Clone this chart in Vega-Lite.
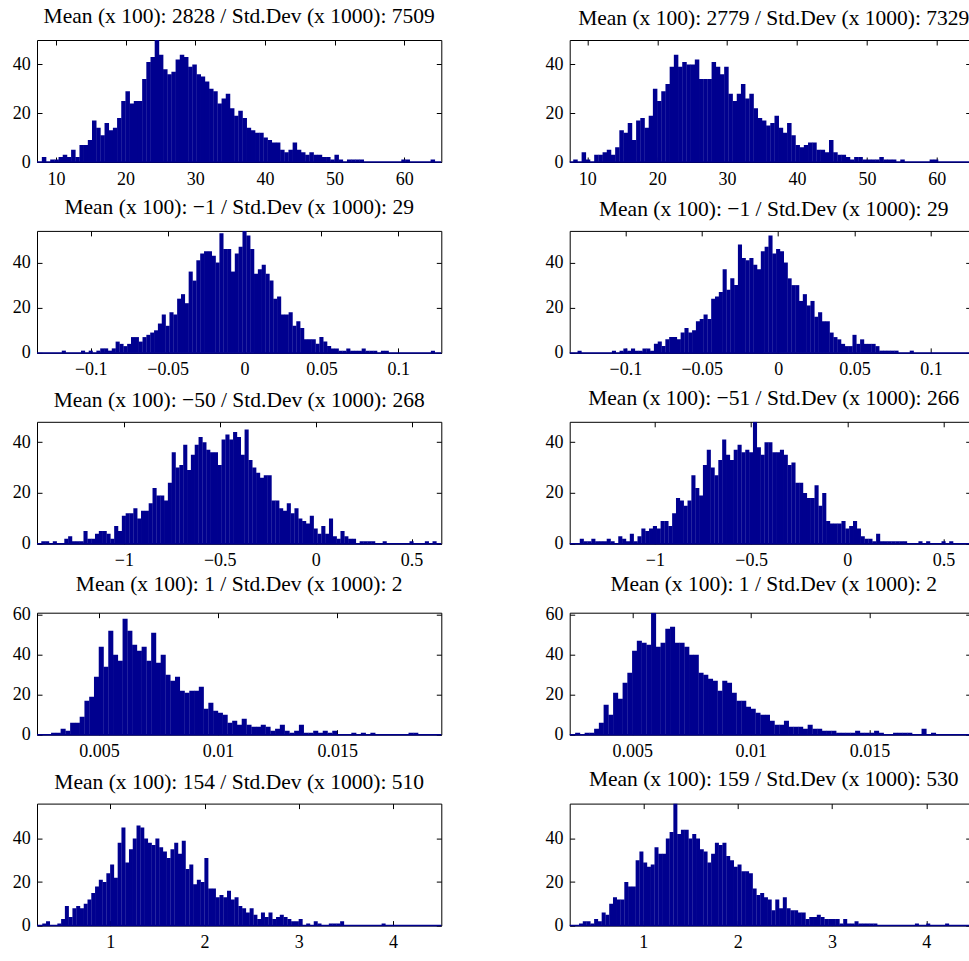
{
"$schema":"https://vega.github.io/schema/vega-lite/v6.json",
"background":"white",
"padding":{"left":11,"top":5,"right":0,"bottom":0},
"config":{
 "view":{"stroke":"#000","strokeWidth":1},
 "axis":{"domain":false,"grid":false,"tickColor":"#000","tickWidth":1,"tickSize":-5,"labelFont":"Liberation Serif","labelFontSize":18,"labelColor":"#000","labelPadding":13,"labelFlush":false,"labelOverlap":false},
 "axisY":{"labelPadding":11.7},
 "title":{"font":"Liberation Serif","fontSize":21.5,"fontWeight":"normal","color":"#000","anchor":"middle","frame":"group","baseline":"alphabetic","offset":10}
},
"datasets":{
"r1l":[{"x":8.3,"c":2},{"x":9.5,"c":1},{"x":10.1,"c":1},{"x":10.7,"c":2},{"x":11.3,"c":3},{"x":11.9,"c":2},{"x":12.5,"c":5},{"x":13.1,"c":2},{"x":13.7,"c":7},{"x":14.3,"c":7},{"x":14.9,"c":9},{"x":15.5,"c":17},{"x":16.1,"c":14},{"x":16.7,"c":11},{"x":17.3,"c":16},{"x":17.9,"c":13},{"x":18.5,"c":14},{"x":19.1,"c":18},{"x":19.7,"c":25},{"x":20.3,"c":29},{"x":20.9,"c":24},{"x":21.5,"c":25},{"x":22.1,"c":25},{"x":22.7,"c":34},{"x":23.3,"c":41},{"x":23.9,"c":43},{"x":24.5,"c":50},{"x":25.1,"c":44},{"x":25.7,"c":38},{"x":26.3,"c":36},{"x":26.9,"c":37},{"x":27.5,"c":42},{"x":28.1,"c":44},{"x":28.7,"c":43},{"x":29.3,"c":39},{"x":29.9,"c":40},{"x":30.5,"c":36},{"x":31.1,"c":35},{"x":31.7,"c":33},{"x":32.3,"c":30},{"x":32.9,"c":29},{"x":33.5,"c":24},{"x":34.1,"c":26},{"x":34.7,"c":28},{"x":35.3,"c":22},{"x":35.9,"c":19},{"x":36.5,"c":21},{"x":37.1,"c":18},{"x":37.7,"c":14},{"x":38.3,"c":13},{"x":38.9,"c":12},{"x":39.5,"c":12},{"x":40.1,"c":10},{"x":40.7,"c":9},{"x":41.3,"c":8},{"x":41.9,"c":8},{"x":42.5,"c":5},{"x":43.1,"c":4},{"x":43.7,"c":5},{"x":44.3,"c":8},{"x":44.9,"c":5},{"x":45.5,"c":4},{"x":46.1,"c":3},{"x":46.7,"c":4},{"x":47.3,"c":3},{"x":47.9,"c":3},{"x":48.5,"c":2},{"x":49.1,"c":2},{"x":49.7,"c":1},{"x":50.3,"c":3},{"x":50.9,"c":1},{"x":52.1,"c":1},{"x":52.7,"c":1},{"x":53.3,"c":1},{"x":53.9,"c":1},{"x":59.9,"c":1},{"x":60.5,"c":1},{"x":64.1,"c":1}],
"r1r":[{"x":8.3,"c":1},{"x":9.5,"c":4},{"x":10.1,"c":1},{"x":11.3,"c":3},{"x":11.9,"c":3},{"x":12.5,"c":4},{"x":13.1,"c":5},{"x":13.7,"c":3},{"x":14.3,"c":6},{"x":14.9,"c":13},{"x":15.5,"c":12},{"x":16.1,"c":16},{"x":16.7,"c":9},{"x":17.3,"c":17},{"x":17.9,"c":18},{"x":18.5,"c":14},{"x":19.1,"c":19},{"x":19.7,"c":30},{"x":20.3,"c":25},{"x":20.9,"c":29},{"x":21.5,"c":32},{"x":22.1,"c":39},{"x":22.7,"c":44},{"x":23.3,"c":39},{"x":23.9,"c":41},{"x":24.5,"c":40},{"x":25.1,"c":40},{"x":25.7,"c":42},{"x":26.3,"c":34},{"x":26.9,"c":34},{"x":27.5,"c":34},{"x":28.1,"c":41},{"x":28.7,"c":39},{"x":29.3,"c":36},{"x":29.9,"c":39},{"x":30.5,"c":28},{"x":31.1,"c":25},{"x":31.7,"c":28},{"x":32.3,"c":32},{"x":32.9,"c":26},{"x":33.5,"c":28},{"x":34.1,"c":22},{"x":34.7,"c":18},{"x":35.3,"c":17},{"x":35.9,"c":15},{"x":36.5,"c":16},{"x":37.1,"c":19},{"x":37.7,"c":14},{"x":38.3,"c":12},{"x":38.9,"c":16},{"x":39.5,"c":11},{"x":40.1,"c":7},{"x":40.7,"c":6},{"x":41.3,"c":7},{"x":41.9,"c":8},{"x":42.5,"c":8},{"x":43.1,"c":5},{"x":43.7,"c":5},{"x":44.3,"c":4},{"x":44.9,"c":9},{"x":45.5,"c":4},{"x":46.1,"c":3},{"x":46.7,"c":3},{"x":47.3,"c":2},{"x":47.9,"c":1},{"x":48.5,"c":2},{"x":49.1,"c":2},{"x":49.7,"c":1},{"x":50.3,"c":1},{"x":50.9,"c":1},{"x":51.5,"c":1},{"x":52.1,"c":2},{"x":52.7,"c":1},{"x":53.3,"c":1},{"x":53.9,"c":1},{"x":55.1,"c":1},{"x":59.3,"c":1},{"x":59.9,"c":1}],
"r2l":[{"x":-0.1175,"c":1},{"x":-0.105,"c":1},{"x":-0.1,"c":1},{"x":-0.095,"c":1},{"x":-0.0925,"c":2},{"x":-0.09,"c":2},{"x":-0.0875,"c":1},{"x":-0.085,"c":2},{"x":-0.0825,"c":5},{"x":-0.08,"c":4},{"x":-0.0775,"c":3},{"x":-0.075,"c":4},{"x":-0.0725,"c":7},{"x":-0.07,"c":7},{"x":-0.0675,"c":5},{"x":-0.065,"c":7},{"x":-0.0625,"c":8},{"x":-0.06,"c":9},{"x":-0.0575,"c":10},{"x":-0.055,"c":13},{"x":-0.0525,"c":17},{"x":-0.05,"c":12},{"x":-0.0475,"c":18},{"x":-0.045,"c":17},{"x":-0.0425,"c":24},{"x":-0.04,"c":26},{"x":-0.0375,"c":22},{"x":-0.035,"c":36},{"x":-0.0325,"c":32},{"x":-0.03,"c":41},{"x":-0.0275,"c":44},{"x":-0.025,"c":45},{"x":-0.0225,"c":45},{"x":-0.02,"c":43},{"x":-0.0175,"c":40},{"x":-0.015,"c":53},{"x":-0.0125,"c":46},{"x":-0.01,"c":46},{"x":-0.0075,"c":36},{"x":-0.005,"c":44},{"x":-0.0025,"c":47},{"x":0,"c":54},{"x":0.0025,"c":52},{"x":0.005,"c":46},{"x":0.0075,"c":35},{"x":0.01,"c":37},{"x":0.0125,"c":39},{"x":0.015,"c":35},{"x":0.0175,"c":32},{"x":0.02,"c":24},{"x":0.0225,"c":25},{"x":0.025,"c":17},{"x":0.0275,"c":17},{"x":0.03,"c":18},{"x":0.0325,"c":12},{"x":0.035,"c":14},{"x":0.0375,"c":11},{"x":0.04,"c":6},{"x":0.0425,"c":6},{"x":0.045,"c":6},{"x":0.0475,"c":4},{"x":0.05,"c":7},{"x":0.0525,"c":5},{"x":0.055,"c":3},{"x":0.0575,"c":2},{"x":0.06,"c":2},{"x":0.0625,"c":1},{"x":0.065,"c":1},{"x":0.0675,"c":2},{"x":0.07,"c":1},{"x":0.0725,"c":1},{"x":0.075,"c":1},{"x":0.0775,"c":2},{"x":0.08,"c":1},{"x":0.0825,"c":1},{"x":0.085,"c":1},{"x":0.09,"c":1},{"x":0.0925,"c":1},{"x":0.1225,"c":1}],
"r2r":[{"x":-0.13,"c":1},{"x":-0.1075,"c":1},{"x":-0.1025,"c":1},{"x":-0.1,"c":2},{"x":-0.0975,"c":1},{"x":-0.095,"c":2},{"x":-0.0925,"c":1},{"x":-0.09,"c":1},{"x":-0.0875,"c":2},{"x":-0.085,"c":2},{"x":-0.0825,"c":1},{"x":-0.08,"c":4},{"x":-0.0775,"c":5},{"x":-0.075,"c":3},{"x":-0.0725,"c":6},{"x":-0.07,"c":7},{"x":-0.0675,"c":7},{"x":-0.065,"c":6},{"x":-0.0625,"c":9},{"x":-0.06,"c":11},{"x":-0.0575,"c":9},{"x":-0.055,"c":10},{"x":-0.0525,"c":14},{"x":-0.05,"c":15},{"x":-0.0475,"c":17},{"x":-0.045,"c":15},{"x":-0.0425,"c":24},{"x":-0.04,"c":25},{"x":-0.0375,"c":27},{"x":-0.035,"c":37},{"x":-0.0325,"c":28},{"x":-0.03,"c":33},{"x":-0.0275,"c":30},{"x":-0.025,"c":48},{"x":-0.0225,"c":42},{"x":-0.02,"c":41},{"x":-0.0175,"c":42},{"x":-0.015,"c":39},{"x":-0.0125,"c":37},{"x":-0.01,"c":45},{"x":-0.0075,"c":47},{"x":-0.005,"c":52},{"x":-0.0025,"c":44},{"x":0,"c":46},{"x":0.0025,"c":45},{"x":0.005,"c":40},{"x":0.0075,"c":33},{"x":0.01,"c":30},{"x":0.0125,"c":30},{"x":0.015,"c":23},{"x":0.0175,"c":26},{"x":0.02,"c":21},{"x":0.0225,"c":23},{"x":0.025,"c":16},{"x":0.0275,"c":18},{"x":0.03,"c":14},{"x":0.0325,"c":14},{"x":0.035,"c":9},{"x":0.0375,"c":7},{"x":0.04,"c":6},{"x":0.0425,"c":4},{"x":0.045,"c":3},{"x":0.0475,"c":3},{"x":0.05,"c":8},{"x":0.0525,"c":4},{"x":0.055,"c":6},{"x":0.0575,"c":4},{"x":0.06,"c":4},{"x":0.0625,"c":4},{"x":0.065,"c":3},{"x":0.0675,"c":1},{"x":0.07,"c":1},{"x":0.0725,"c":1},{"x":0.075,"c":1},{"x":0.0775,"c":1},{"x":0.0875,"c":1}],
"r3l":[{"x":-1.42,"c":1},{"x":-1.4,"c":1},{"x":-1.36,"c":1},{"x":-1.3,"c":2},{"x":-1.28,"c":3},{"x":-1.26,"c":1},{"x":-1.24,"c":1},{"x":-1.22,"c":1},{"x":-1.2,"c":5},{"x":-1.18,"c":2},{"x":-1.16,"c":2},{"x":-1.14,"c":4},{"x":-1.12,"c":5},{"x":-1.1,"c":5},{"x":-1.08,"c":4},{"x":-1.06,"c":2},{"x":-1.04,"c":7},{"x":-1.02,"c":5},{"x":-1,"c":11},{"x":-0.98,"c":12},{"x":-0.96,"c":12},{"x":-0.94,"c":14},{"x":-0.92,"c":10},{"x":-0.9,"c":13},{"x":-0.88,"c":13},{"x":-0.86,"c":16},{"x":-0.84,"c":22},{"x":-0.82,"c":19},{"x":-0.8,"c":19},{"x":-0.78,"c":17},{"x":-0.76,"c":24},{"x":-0.74,"c":36},{"x":-0.72,"c":30},{"x":-0.7,"c":31},{"x":-0.68,"c":39},{"x":-0.66,"c":29},{"x":-0.64,"c":35},{"x":-0.62,"c":39},{"x":-0.6,"c":42},{"x":-0.58,"c":40},{"x":-0.56,"c":37},{"x":-0.54,"c":36},{"x":-0.52,"c":36},{"x":-0.5,"c":31},{"x":-0.48,"c":41},{"x":-0.46,"c":43},{"x":-0.44,"c":41},{"x":-0.42,"c":44},{"x":-0.4,"c":42},{"x":-0.38,"c":35},{"x":-0.36,"c":45},{"x":-0.34,"c":33},{"x":-0.32,"c":30},{"x":-0.3,"c":28},{"x":-0.28,"c":26},{"x":-0.26,"c":27},{"x":-0.24,"c":27},{"x":-0.22,"c":17},{"x":-0.2,"c":17},{"x":-0.18,"c":14},{"x":-0.16,"c":13},{"x":-0.14,"c":16},{"x":-0.12,"c":12},{"x":-0.1,"c":14},{"x":-0.08,"c":10},{"x":-0.06,"c":9},{"x":-0.04,"c":8},{"x":-0.02,"c":11},{"x":0,"c":6},{"x":0.02,"c":4},{"x":0.04,"c":7},{"x":0.06,"c":4},{"x":0.08,"c":10},{"x":0.1,"c":3},{"x":0.12,"c":2},{"x":0.14,"c":5},{"x":0.16,"c":3},{"x":0.18,"c":2},{"x":0.2,"c":2},{"x":0.24,"c":1},{"x":0.26,"c":1},{"x":0.28,"c":1},{"x":0.3,"c":1},{"x":0.36,"c":1},{"x":0.5,"c":1},{"x":0.58,"c":1},{"x":0.62,"c":1}],
"r3r":[{"x":-1.38,"c":2},{"x":-1.36,"c":1},{"x":-1.34,"c":1},{"x":-1.32,"c":2},{"x":-1.3,"c":1},{"x":-1.28,"c":1},{"x":-1.26,"c":1},{"x":-1.24,"c":2},{"x":-1.22,"c":1},{"x":-1.18,"c":3},{"x":-1.16,"c":2},{"x":-1.14,"c":1},{"x":-1.12,"c":4},{"x":-1.1,"c":1},{"x":-1.08,"c":3},{"x":-1.06,"c":6},{"x":-1.04,"c":5},{"x":-1.02,"c":6},{"x":-1,"c":7},{"x":-0.98,"c":6},{"x":-0.96,"c":9},{"x":-0.94,"c":9},{"x":-0.92,"c":7},{"x":-0.9,"c":12},{"x":-0.88,"c":18},{"x":-0.86,"c":17},{"x":-0.84,"c":15},{"x":-0.82,"c":17},{"x":-0.8,"c":27},{"x":-0.78,"c":22},{"x":-0.76,"c":19},{"x":-0.74,"c":31},{"x":-0.72,"c":37},{"x":-0.7,"c":30},{"x":-0.68,"c":27},{"x":-0.66,"c":33},{"x":-0.64,"c":41},{"x":-0.62,"c":35},{"x":-0.6,"c":33},{"x":-0.58,"c":37},{"x":-0.56,"c":39},{"x":-0.54,"c":36},{"x":-0.52,"c":37},{"x":-0.5,"c":36},{"x":-0.48,"c":48},{"x":-0.46,"c":38},{"x":-0.44,"c":35},{"x":-0.42,"c":40},{"x":-0.4,"c":40},{"x":-0.38,"c":36},{"x":-0.36,"c":36},{"x":-0.34,"c":37},{"x":-0.32,"c":35},{"x":-0.3,"c":31},{"x":-0.28,"c":32},{"x":-0.26,"c":24},{"x":-0.24,"c":24},{"x":-0.22,"c":20},{"x":-0.2,"c":18},{"x":-0.18,"c":18},{"x":-0.16,"c":23},{"x":-0.14,"c":15},{"x":-0.12,"c":20},{"x":-0.1,"c":9},{"x":-0.08,"c":8},{"x":-0.06,"c":8},{"x":-0.04,"c":8},{"x":-0.02,"c":9},{"x":0,"c":6},{"x":0.02,"c":7},{"x":0.04,"c":9},{"x":0.06,"c":6},{"x":0.08,"c":3},{"x":0.1,"c":2},{"x":0.12,"c":2},{"x":0.14,"c":1},{"x":0.16,"c":4},{"x":0.18,"c":1},{"x":0.2,"c":1},{"x":0.22,"c":1},{"x":0.24,"c":1},{"x":0.26,"c":1},{"x":0.28,"c":1},{"x":0.3,"c":1},{"x":0.38,"c":1},{"x":0.42,"c":1},{"x":0.5,"c":1},{"x":0.54,"c":1}],
"r4l":[{"x":0.0031,"c":1},{"x":0.0033,"c":1},{"x":0.0035,"c":3},{"x":0.0037,"c":2},{"x":0.0039,"c":6},{"x":0.0041,"c":6},{"x":0.0043,"c":9},{"x":0.0045,"c":17},{"x":0.0047,"c":19},{"x":0.0049,"c":29},{"x":0.0051,"c":44},{"x":0.0053,"c":34},{"x":0.0055,"c":52},{"x":0.0057,"c":40},{"x":0.0059,"c":37},{"x":0.0061,"c":58},{"x":0.0063,"c":52},{"x":0.0065,"c":45},{"x":0.0067,"c":42},{"x":0.0069,"c":44},{"x":0.0071,"c":37},{"x":0.0073,"c":51},{"x":0.0075,"c":36},{"x":0.0077,"c":40},{"x":0.0079,"c":30},{"x":0.0081,"c":27},{"x":0.0083,"c":29},{"x":0.0085,"c":22},{"x":0.0087,"c":21},{"x":0.0089,"c":22},{"x":0.0091,"c":22},{"x":0.0093,"c":24},{"x":0.0095,"c":13},{"x":0.0097,"c":16},{"x":0.0099,"c":12},{"x":0.0101,"c":11},{"x":0.0103,"c":10},{"x":0.0105,"c":6},{"x":0.0107,"c":7},{"x":0.0109,"c":5},{"x":0.0111,"c":8},{"x":0.0113,"c":5},{"x":0.0115,"c":4},{"x":0.0117,"c":4},{"x":0.0119,"c":5},{"x":0.0121,"c":4},{"x":0.0123,"c":2},{"x":0.0125,"c":3},{"x":0.0127,"c":5},{"x":0.0129,"c":2},{"x":0.0131,"c":1},{"x":0.0133,"c":2},{"x":0.0135,"c":5},{"x":0.0137,"c":1},{"x":0.0139,"c":1},{"x":0.0141,"c":2},{"x":0.0143,"c":1},{"x":0.0145,"c":2},{"x":0.0147,"c":1},{"x":0.0149,"c":2},{"x":0.0157,"c":1},{"x":0.0161,"c":1},{"x":0.0165,"c":1},{"x":0.0181,"c":1},{"x":0.0183,"c":1}],
"r4r":[{"x":0.0027,"c":1},{"x":0.0031,"c":1},{"x":0.0033,"c":1},{"x":0.0035,"c":3},{"x":0.0037,"c":6},{"x":0.0039,"c":15},{"x":0.0041,"c":10},{"x":0.0043,"c":21},{"x":0.0045,"c":18},{"x":0.0047,"c":26},{"x":0.0049,"c":31},{"x":0.0051,"c":42},{"x":0.0053,"c":47},{"x":0.0055,"c":46},{"x":0.0057,"c":45},{"x":0.0059,"c":61},{"x":0.0061,"c":44},{"x":0.0063,"c":46},{"x":0.0065,"c":53},{"x":0.0067,"c":54},{"x":0.0069,"c":46},{"x":0.0071,"c":46},{"x":0.0073,"c":44},{"x":0.0075,"c":40},{"x":0.0077,"c":40},{"x":0.0079,"c":31},{"x":0.0081,"c":30},{"x":0.0083,"c":28},{"x":0.0085,"c":27},{"x":0.0087,"c":22},{"x":0.0089,"c":27},{"x":0.0091,"c":26},{"x":0.0093,"c":21},{"x":0.0095,"c":17},{"x":0.0097,"c":17},{"x":0.0099,"c":14},{"x":0.0101,"c":13},{"x":0.0103,"c":11},{"x":0.0105,"c":10},{"x":0.0107,"c":10},{"x":0.0109,"c":7},{"x":0.0111,"c":5},{"x":0.0113,"c":5},{"x":0.0115,"c":7},{"x":0.0117,"c":4},{"x":0.0119,"c":4},{"x":0.0121,"c":4},{"x":0.0123,"c":3},{"x":0.0125,"c":5},{"x":0.0127,"c":3},{"x":0.0129,"c":3},{"x":0.0131,"c":2},{"x":0.0133,"c":2},{"x":0.0135,"c":2},{"x":0.0137,"c":1},{"x":0.0139,"c":1},{"x":0.0141,"c":1},{"x":0.0143,"c":1},{"x":0.0145,"c":2},{"x":0.0147,"c":1},{"x":0.0149,"c":1},{"x":0.0151,"c":1},{"x":0.0153,"c":2},{"x":0.0155,"c":1},{"x":0.0161,"c":1},{"x":0.0163,"c":1},{"x":0.0165,"c":1},{"x":0.0167,"c":1},{"x":0.0173,"c":3},{"x":0.0177,"c":1}],
"r5l":[{"x":0.3,"c":1},{"x":0.34,"c":2},{"x":0.46,"c":1},{"x":0.5,"c":3},{"x":0.54,"c":9},{"x":0.58,"c":4},{"x":0.62,"c":8},{"x":0.66,"c":9},{"x":0.7,"c":8},{"x":0.74,"c":10},{"x":0.78,"c":12},{"x":0.82,"c":15},{"x":0.86,"c":18},{"x":0.9,"c":21},{"x":0.94,"c":20},{"x":0.98,"c":24},{"x":1.02,"c":28},{"x":1.06,"c":22},{"x":1.1,"c":38},{"x":1.14,"c":45},{"x":1.18,"c":29},{"x":1.22,"c":35},{"x":1.26,"c":40},{"x":1.3,"c":46},{"x":1.34,"c":45},{"x":1.38,"c":40},{"x":1.42,"c":38},{"x":1.46,"c":37},{"x":1.5,"c":40},{"x":1.54,"c":36},{"x":1.58,"c":34},{"x":1.62,"c":31},{"x":1.66,"c":35},{"x":1.7,"c":38},{"x":1.74,"c":33},{"x":1.78,"c":39},{"x":1.82,"c":26},{"x":1.86,"c":28},{"x":1.9,"c":19},{"x":1.94,"c":21},{"x":1.98,"c":20},{"x":2.02,"c":31},{"x":2.06,"c":17},{"x":2.1,"c":17},{"x":2.14,"c":13},{"x":2.18,"c":14},{"x":2.22,"c":13},{"x":2.26,"c":16},{"x":2.3,"c":12},{"x":2.34,"c":13},{"x":2.38,"c":9},{"x":2.42,"c":8},{"x":2.46,"c":6},{"x":2.5,"c":8},{"x":2.54,"c":5},{"x":2.58,"c":3},{"x":2.62,"c":6},{"x":2.66,"c":4},{"x":2.7,"c":6},{"x":2.74,"c":3},{"x":2.78,"c":4},{"x":2.82,"c":5},{"x":2.86,"c":4},{"x":2.9,"c":3},{"x":2.94,"c":2},{"x":2.98,"c":2},{"x":3.02,"c":3},{"x":3.1,"c":1},{"x":3.18,"c":2},{"x":3.22,"c":1},{"x":3.34,"c":1},{"x":3.38,"c":1},{"x":3.42,"c":1},{"x":3.46,"c":2},{"x":3.9,"c":1}],
"r5r":[{"x":0.34,"c":1},{"x":0.38,"c":2},{"x":0.42,"c":2},{"x":0.46,"c":1},{"x":0.5,"c":3},{"x":0.54,"c":2},{"x":0.58,"c":6},{"x":0.62,"c":5},{"x":0.66,"c":10},{"x":0.7,"c":13},{"x":0.74,"c":12},{"x":0.78,"c":12},{"x":0.82,"c":20},{"x":0.86,"c":18},{"x":0.9,"c":18},{"x":0.94,"c":30},{"x":0.98,"c":34},{"x":1.02,"c":29},{"x":1.06,"c":27},{"x":1.1,"c":28},{"x":1.14,"c":36},{"x":1.18,"c":33},{"x":1.22,"c":33},{"x":1.26,"c":40},{"x":1.3,"c":43},{"x":1.34,"c":56},{"x":1.38,"c":42},{"x":1.42,"c":44},{"x":1.46,"c":44},{"x":1.5,"c":40},{"x":1.54,"c":42},{"x":1.58,"c":40},{"x":1.62,"c":35},{"x":1.66,"c":34},{"x":1.7,"c":29},{"x":1.74,"c":33},{"x":1.78,"c":38},{"x":1.82,"c":37},{"x":1.86,"c":38},{"x":1.9,"c":32},{"x":1.94,"c":30},{"x":1.98,"c":27},{"x":2.02,"c":28},{"x":2.06,"c":25},{"x":2.1,"c":25},{"x":2.14,"c":24},{"x":2.18,"c":17},{"x":2.22,"c":14},{"x":2.26,"c":15},{"x":2.3,"c":13},{"x":2.34,"c":12},{"x":2.38,"c":7},{"x":2.42,"c":12},{"x":2.46,"c":8},{"x":2.5,"c":13},{"x":2.54,"c":8},{"x":2.58,"c":7},{"x":2.62,"c":7},{"x":2.66,"c":6},{"x":2.7,"c":6},{"x":2.74,"c":3},{"x":2.78,"c":4},{"x":2.82,"c":4},{"x":2.86,"c":5},{"x":2.9,"c":4},{"x":2.94,"c":3},{"x":2.98,"c":3},{"x":3.02,"c":3},{"x":3.06,"c":3},{"x":3.1,"c":1},{"x":3.14,"c":3},{"x":3.18,"c":1},{"x":3.22,"c":1},{"x":3.26,"c":2},{"x":3.3,"c":1},{"x":3.34,"c":1},{"x":3.38,"c":1},{"x":3.42,"c":1},{"x":3.46,"c":1},{"x":3.9,"c":1},{"x":4.02,"c":1},{"x":4.22,"c":1}]
},
"columns":2,
"bounds":"flush",
"spacing":{"row":68.9,"column":127.7},
"concat":[
{"width":404.3,"height":122,"title":{"text":"Mean (x 100): 2828 / Std.Dev (x 1000): 7509"},"data":{"name":"r1l"},"resolve":{"axis":{"x":"independent","y":"independent"}},"layer":[
 {"mark":{"type":"bar","orient":"vertical","width":4.5,"color":"#00008F","clip":true},"encoding":{"x":{"field":"x","type":"quantitative","title":null,"scale":{"domain":[8.0,64.6],"nice":false,"zero":false},"axis":{"orient":"bottom","values":[10,20,30,40,50,60],"format":"~r"}},"y":{"field":"c","type":"quantitative","title":null,"scale":{"domain":[0,50],"nice":false},"axis":{"orient":"left","values":[0,20,40]}}}},
 {"data":{"values":[{}]},"mark":{"type":"rule","color":"#00008F","strokeWidth":1.5},"encoding":{"y":{"datum":0,"type":"quantitative","axis":null}}},
 {"mark":{"type":"point","opacity":0},"encoding":{"x":{"field":"x","type":"quantitative","title":null,"scale":{"domain":[8.0,64.6],"nice":false,"zero":false},"axis":{"orient":"top","labels":false,"values":[10,20,30,40,50,60]}},"y":{"field":"c","type":"quantitative","title":null,"scale":{"domain":[0,50],"nice":false},"axis":{"orient":"right","labels":false,"values":[0,20,40]}}}}
]},
{"width":401,"height":122,"title":{"text":"Mean (x 100): 2779 / Std.Dev (x 1000): 7329","dx":3.5},"data":{"name":"r1r"},"resolve":{"axis":{"x":"independent","y":"independent"}},"layer":[
 {"mark":{"type":"bar","orient":"vertical","width":4.5,"color":"#00008F","clip":true},"encoding":{"x":{"field":"x","type":"quantitative","title":null,"scale":{"domain":[8.19,64.14],"nice":false,"zero":false},"axis":{"orient":"bottom","values":[10,20,30,40,50,60],"format":"~r"}},"y":{"field":"c","type":"quantitative","title":null,"scale":{"domain":[0,50],"nice":false},"axis":{"orient":"left","values":[0,20,40]}}}},
 {"data":{"values":[{}]},"mark":{"type":"rule","color":"#00008F","strokeWidth":1.5},"encoding":{"y":{"datum":0,"type":"quantitative","axis":null}}},
 {"mark":{"type":"point","opacity":0},"encoding":{"x":{"field":"x","type":"quantitative","title":null,"scale":{"domain":[8.19,64.14],"nice":false,"zero":false},"axis":{"orient":"top","labels":false,"values":[10,20,30,40,50,60]}},"y":{"field":"c","type":"quantitative","title":null,"scale":{"domain":[0,50],"nice":false},"axis":{"orient":"right","labels":false,"values":[0,20,40]}}}}
]},
{"width":404.3,"height":122,"title":{"text":"Mean (x 100): −1 / Std.Dev (x 1000): 29"},"data":{"name":"r2l"},"resolve":{"axis":{"x":"independent","y":"independent"}},"layer":[
 {"mark":{"type":"bar","orient":"vertical","width":4.1,"color":"#00008F","clip":true},"encoding":{"x":{"field":"x","type":"quantitative","title":null,"scale":{"domain":[-0.1317,0.1247],"nice":false,"zero":false},"axis":{"orient":"bottom","values":[-0.1,-0.05,0,0.05,0.1],"format":"~r"}},"y":{"field":"c","type":"quantitative","title":null,"scale":{"domain":[0,54],"nice":false},"axis":{"orient":"left","values":[0,20,40]}}}},
 {"data":{"values":[{}]},"mark":{"type":"rule","color":"#00008F","strokeWidth":1.5},"encoding":{"y":{"datum":0,"type":"quantitative","axis":null}}},
 {"mark":{"type":"point","opacity":0},"encoding":{"x":{"field":"x","type":"quantitative","title":null,"scale":{"domain":[-0.1317,0.1247],"nice":false,"zero":false},"axis":{"orient":"top","labels":false,"values":[-0.1,-0.05,0,0.05,0.1]}},"y":{"field":"c","type":"quantitative","title":null,"scale":{"domain":[0,54],"nice":false},"axis":{"orient":"right","labels":false,"values":[0,20,40]}}}}
]},
{"width":401,"height":122,"title":{"text":"Mean (x 100): −1 / Std.Dev (x 1000): 29","dx":3.5},"data":{"name":"r2r"},"resolve":{"axis":{"x":"independent","y":"independent"}},"layer":[
 {"mark":{"type":"bar","orient":"vertical","width":4.1,"color":"#00008F","clip":true},"encoding":{"x":{"field":"x","type":"quantitative","title":null,"scale":{"domain":[-0.1332,0.1228],"nice":false,"zero":false},"axis":{"orient":"bottom","values":[-0.1,-0.05,0,0.05,0.1],"format":"~r"}},"y":{"field":"c","type":"quantitative","title":null,"scale":{"domain":[0,54],"nice":false},"axis":{"orient":"left","values":[0,20,40]}}}},
 {"data":{"values":[{}]},"mark":{"type":"rule","color":"#00008F","strokeWidth":1.5},"encoding":{"y":{"datum":0,"type":"quantitative","axis":null}}},
 {"mark":{"type":"point","opacity":0},"encoding":{"x":{"field":"x","type":"quantitative","title":null,"scale":{"domain":[-0.1332,0.1228],"nice":false,"zero":false},"axis":{"orient":"top","labels":false,"values":[-0.1,-0.05,0,0.05,0.1]}},"y":{"field":"c","type":"quantitative","title":null,"scale":{"domain":[0,54],"nice":false},"axis":{"orient":"right","labels":false,"values":[0,20,40]}}}}
]},
{"width":404.3,"height":122,"title":{"text":"Mean (x 100): −50 / Std.Dev (x 1000): 268"},"data":{"name":"r3l"},"resolve":{"axis":{"x":"independent","y":"independent"}},"layer":[
 {"mark":{"type":"bar","orient":"vertical","width":4.1,"color":"#00008F","clip":true},"encoding":{"x":{"field":"x","type":"quantitative","title":null,"scale":{"domain":[-1.427,0.629],"nice":false,"zero":false},"axis":{"orient":"bottom","values":[-1,-0.5,0,0.5],"format":"~r"}},"y":{"field":"c","type":"quantitative","title":null,"scale":{"domain":[0,48],"nice":false},"axis":{"orient":"left","values":[0,20,40]}}}},
 {"data":{"values":[{}]},"mark":{"type":"rule","color":"#00008F","strokeWidth":1.5},"encoding":{"y":{"datum":0,"type":"quantitative","axis":null}}},
 {"mark":{"type":"point","opacity":0},"encoding":{"x":{"field":"x","type":"quantitative","title":null,"scale":{"domain":[-1.427,0.629],"nice":false,"zero":false},"axis":{"orient":"top","labels":false,"values":[-1,-0.5,0,0.5]}},"y":{"field":"c","type":"quantitative","title":null,"scale":{"domain":[0,48],"nice":false},"axis":{"orient":"right","labels":false,"values":[0,20,40]}}}}
]},
{"width":401,"height":122,"title":{"text":"Mean (x 100): −51 / Std.Dev (x 1000): 266","dx":3.5},"data":{"name":"r3r"},"resolve":{"axis":{"x":"independent","y":"independent"}},"layer":[
 {"mark":{"type":"bar","orient":"vertical","width":4.1,"color":"#00008F","clip":true},"encoding":{"x":{"field":"x","type":"quantitative","title":null,"scale":{"domain":[-1.417,0.615],"nice":false,"zero":false},"axis":{"orient":"bottom","values":[-1,-0.5,0,0.5],"format":"~r"}},"y":{"field":"c","type":"quantitative","title":null,"scale":{"domain":[0,48],"nice":false},"axis":{"orient":"left","values":[0,20,40]}}}},
 {"data":{"values":[{}]},"mark":{"type":"rule","color":"#00008F","strokeWidth":1.5},"encoding":{"y":{"datum":0,"type":"quantitative","axis":null}}},
 {"mark":{"type":"point","opacity":0},"encoding":{"x":{"field":"x","type":"quantitative","title":null,"scale":{"domain":[-1.417,0.615],"nice":false,"zero":false},"axis":{"orient":"top","labels":false,"values":[-1,-0.5,0,0.5]}},"y":{"field":"c","type":"quantitative","title":null,"scale":{"domain":[0,48],"nice":false},"axis":{"orient":"right","labels":false,"values":[0,20,40]}}}}
]},
{"width":404.3,"height":122,"title":{"text":"Mean (x 100): 1 / Std.Dev (x 1000): 2"},"data":{"name":"r4l"},"resolve":{"axis":{"x":"independent","y":"independent"}},"layer":[
 {"mark":{"type":"bar","orient":"vertical","width":5.05,"color":"#00008F","clip":true},"encoding":{"x":{"field":"x","type":"quantitative","title":null,"scale":{"domain":[0.002613,0.01916],"nice":false,"zero":false},"axis":{"orient":"bottom","values":[0.005,0.01,0.015],"format":"~r"}},"y":{"field":"c","type":"quantitative","title":null,"scale":{"domain":[0,61],"nice":false},"axis":{"orient":"left","values":[0,20,40,60]}}}},
 {"data":{"values":[{}]},"mark":{"type":"rule","color":"#00008F","strokeWidth":1.5},"encoding":{"y":{"datum":0,"type":"quantitative","axis":null}}},
 {"mark":{"type":"point","opacity":0},"encoding":{"x":{"field":"x","type":"quantitative","title":null,"scale":{"domain":[0.002613,0.01916],"nice":false,"zero":false},"axis":{"orient":"top","labels":false,"values":[0.005,0.01,0.015]}},"y":{"field":"c","type":"quantitative","title":null,"scale":{"domain":[0,61],"nice":false},"axis":{"orient":"right","labels":false,"values":[0,20,40,60]}}}}
]},
{"width":401,"height":122,"title":{"text":"Mean (x 100): 1 / Std.Dev (x 1000): 2","dx":3.5},"data":{"name":"r4r"},"resolve":{"axis":{"x":"independent","y":"independent"}},"layer":[
 {"mark":{"type":"bar","orient":"vertical","width":5.05,"color":"#00008F","clip":true},"encoding":{"x":{"field":"x","type":"quantitative","title":null,"scale":{"domain":[0.002575,0.019055],"nice":false,"zero":false},"axis":{"orient":"bottom","values":[0.005,0.01,0.015],"format":"~r"}},"y":{"field":"c","type":"quantitative","title":null,"scale":{"domain":[0,61],"nice":false},"axis":{"orient":"left","values":[0,20,40,60]}}}},
 {"data":{"values":[{}]},"mark":{"type":"rule","color":"#00008F","strokeWidth":1.5},"encoding":{"y":{"datum":0,"type":"quantitative","axis":null}}},
 {"mark":{"type":"point","opacity":0},"encoding":{"x":{"field":"x","type":"quantitative","title":null,"scale":{"domain":[0.002575,0.019055],"nice":false,"zero":false},"axis":{"orient":"top","labels":false,"values":[0.005,0.01,0.015]}},"y":{"field":"c","type":"quantitative","title":null,"scale":{"domain":[0,61],"nice":false},"axis":{"orient":"right","labels":false,"values":[0,20,40,60]}}}}
]},
{"width":404.3,"height":122,"title":{"text":"Mean (x 100): 154 / Std.Dev (x 1000): 510"},"data":{"name":"r5l"},"resolve":{"axis":{"x":"independent","y":"independent"}},"layer":[
 {"mark":{"type":"bar","orient":"vertical","width":4.0,"color":"#00008F","clip":true},"encoding":{"x":{"field":"x","type":"quantitative","title":null,"scale":{"domain":[0.276,4.459],"nice":false,"zero":false},"axis":{"orient":"bottom","values":[1,2,3,4],"format":"~r"}},"y":{"field":"c","type":"quantitative","title":null,"scale":{"domain":[0,56],"nice":false},"axis":{"orient":"left","values":[0,20,40]}}}},
 {"data":{"values":[{}]},"mark":{"type":"rule","color":"#00008F","strokeWidth":1.5},"encoding":{"y":{"datum":0,"type":"quantitative","axis":null}}},
 {"mark":{"type":"point","opacity":0},"encoding":{"x":{"field":"x","type":"quantitative","title":null,"scale":{"domain":[0.276,4.459],"nice":false,"zero":false},"axis":{"orient":"top","labels":false,"values":[1,2,3,4]}},"y":{"field":"c","type":"quantitative","title":null,"scale":{"domain":[0,56],"nice":false},"axis":{"orient":"right","labels":false,"values":[0,20,40]}}}}
]},
{"width":401,"height":122,"title":{"text":"Mean (x 100): 159 / Std.Dev (x 1000): 530","dx":3.5},"data":{"name":"r5r"},"resolve":{"axis":{"x":"independent","y":"independent"}},"layer":[
 {"mark":{"type":"bar","orient":"vertical","width":4.0,"color":"#00008F","clip":true},"encoding":{"x":{"field":"x","type":"quantitative","title":null,"scale":{"domain":[0.273,4.417],"nice":false,"zero":false},"axis":{"orient":"bottom","values":[1,2,3,4],"format":"~r"}},"y":{"field":"c","type":"quantitative","title":null,"scale":{"domain":[0,56],"nice":false},"axis":{"orient":"left","values":[0,20,40]}}}},
 {"data":{"values":[{}]},"mark":{"type":"rule","color":"#00008F","strokeWidth":1.5},"encoding":{"y":{"datum":0,"type":"quantitative","axis":null}}},
 {"mark":{"type":"point","opacity":0},"encoding":{"x":{"field":"x","type":"quantitative","title":null,"scale":{"domain":[0.273,4.417],"nice":false,"zero":false},"axis":{"orient":"top","labels":false,"values":[1,2,3,4]}},"y":{"field":"c","type":"quantitative","title":null,"scale":{"domain":[0,56],"nice":false},"axis":{"orient":"right","labels":false,"values":[0,20,40]}}}}
]}
]
}
